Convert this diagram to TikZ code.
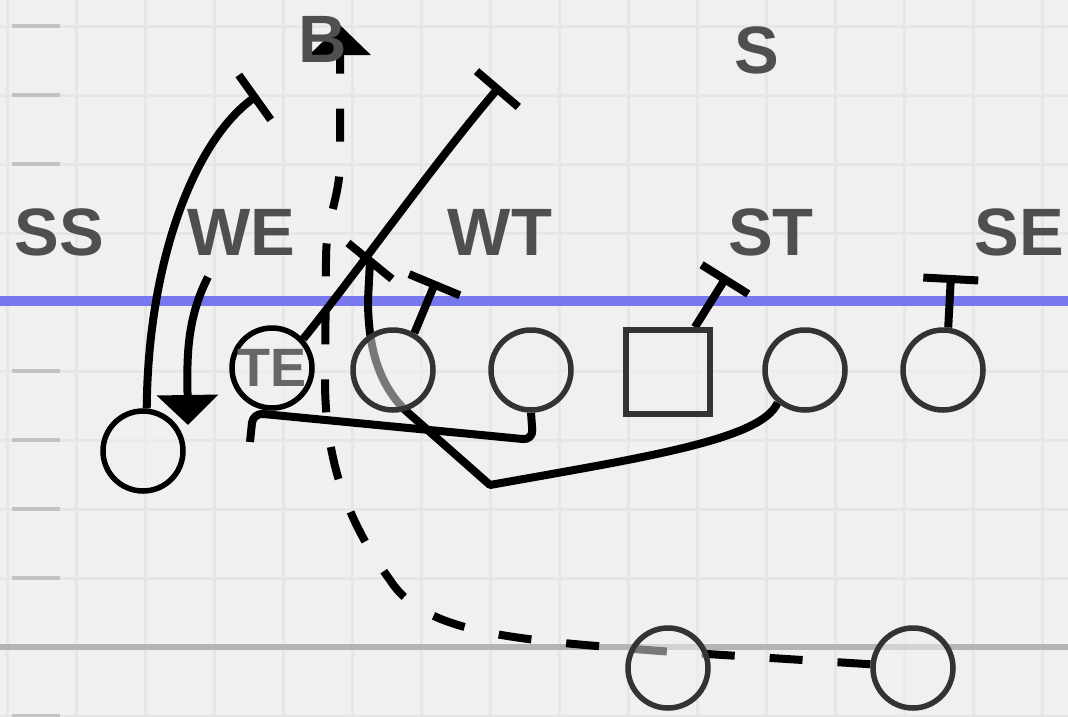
\documentclass[tikz,border=0pt]{standalone}
\usepackage{fontspec}
\setmainfont{Liberation Sans}
\usetikzlibrary{arrows.meta}
\definecolor{field}{HTML}{F0F0F0}
\definecolor{gridc}{HTML}{E6E6E6}
\definecolor{tick}{HTML}{C2C2C2}
\definecolor{scrim}{HTML}{7777EE}
\definecolor{yardc}{HTML}{B4B4B4}
\definecolor{ink}{HTML}{333333}
\definecolor{lbl}{HTML}{4F4F4F}
\definecolor{telbl}{HTML}{666666}
\pgfdeclarelayer{grid}
\pgfdeclarelayer{paths}
\pgfsetlayers{grid,paths,main}

\begin{document}
\begin{tikzpicture}[x=1pt, y=-1pt,
    player/.style={circle, draw=ink, line width=5.5pt, fill=field, fill opacity=0.5, text opacity=1, minimum size=80pt, inner sep=0pt},
    snapper/.style={rectangle, draw=ink, line width=5.5pt, fill=field, fill opacity=0.5, minimum size=84pt, inner sep=0pt},
    posn/.style={anchor=base, text=lbl, font=\fontsize{67}{67}\selectfont\bfseries},
    route/.style={line width=8pt, line join=round},
    block/.style={route, -{Bar[width=55pt]}},
    rush/.style={route, -{Triangle[width=60pt, length=30pt]}},
    motion/.style={route, dash pattern=on 33pt off 35pt, -{Triangle[width=60pt, length=30pt]}}
]
\useasboundingbox (0,0) rectangle (1068,716);
\begin{pgfonlayer}{grid}
\fill[field] (0,0) rectangle (1068,716);
\foreach \x in {7,76,...,1042} \draw[gridc, line width=3pt] (\x,0) -- (\x,716);
\foreach \y in {26,95,...,716} \draw[gridc, line width=3pt] (0,\y) -- (1068,\y);
\foreach \y in {26,95,164,371,440,509,578,716} \draw[tick, line width=4pt] (12,\y) -- (60,\y);
\draw[scrim, line width=10pt] (0,301) -- (1068,301);
\draw[yardc, line width=6pt] (0,647) -- (1068,647);
\end{pgfonlayer}

% offense
\node[player, draw=black, font=\fontsize{54}{54}\selectfont\bfseries, text=telbl] (te) at (272,368) {TE};
\node[player] (lt) at (393,370) {};
\node[player] (lg) at (531,370) {};
\node[snapper] (ctr) at (668,372) {};
\node[player] (rg) at (805,370) {};
\node[player] (rt) at (943,370) {};
\node[player, draw=black] (wing) at (143,451) {};
\node[player] (qb) at (668,668) {};
\node[player] (rb) at (913,668) {};

% defense
\node[posn] (ss) at (59,255) {SS};
\node[posn] (we) at (241,255) {WE};
\node[posn] (wt) at (500,255) {WT};
\node[posn] (st) at (771,255) {ST};
\node[posn] (se) at (1019,255) {SE};
\node[posn] (s) at (757,73) {S};
\node[posn] (b) at (323,62) {B};

% route ends
\coordinate (wing-end) at (258,95);
\coordinate (we-rush) at (208,277);
\coordinate (we-stop) at (188,425);
\coordinate (te-end) at (500,86);
\coordinate (lt-end) at (436,281);
\coordinate (ctr-end) at (727,276);
\coordinate (rt-end) at (951,275);
\coordinate (rg-end) at (370,261);
\coordinate (rb-end) at (340,25);

\begin{pgfonlayer}{paths}
\draw[block] (wing.85) .. controls (148,260) and (195,140) .. (wing-end);
\draw[rush] (we-rush) .. controls (186,320) and (187,360) .. (we-stop);
\draw[block] (te.43) .. controls (355,275) and (435,162) .. (te-end);
\draw[block] (lt.60) -- (lt-end);
\draw[block] (ctr.59) -- (ctr-end);
\draw[block] (rt.83) -- (rt-end);
% pull
\draw[route, rounded corners=10pt] (lg.south) -- (533,440) -- (253,413) -- (250,442);
\draw[route] (rg.230) .. controls (762,440) and (640,458) .. (490,485) -- (405,410)
  .. controls (380,385) and (368,350) .. (368,300) -- (rg-end);
\draw[route] (rg-end) ++(-22,-18) -- ++(44,36);
% motion
\draw[motion] (rb.175) -- (660,651) .. controls (520,640) and (425,635) .. (390,580)
  .. controls (350,525) and (325,465) .. (325,380) -- (326,260)
  .. controls (326,215) and (340,200) .. (340,160) -- (rb-end);
\end{pgfonlayer}
\end{tikzpicture}
\end{document}
